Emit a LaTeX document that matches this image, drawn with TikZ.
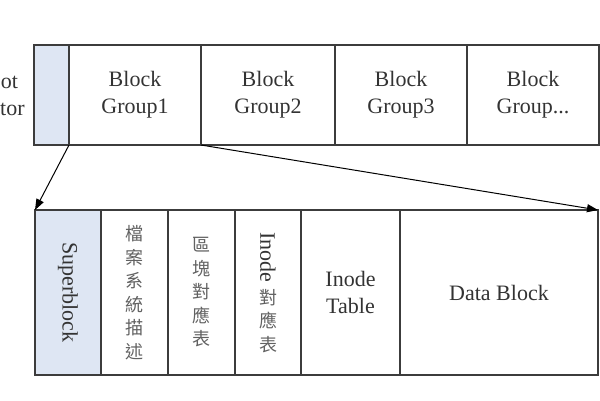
\documentclass[tikz,border=0pt]{standalone}
\usepackage{fontspec}
\setmainfont{Liberation Serif}
\newfontfamily\tcfont{Noto Sans CJK TC}
\usetikzlibrary{arrows.meta,positioning}
\definecolor{sbblue}{RGB}{222,230,243}
\definecolor{edge}{RGB}{60,60,60}

\begin{document}
\begin{tikzpicture}[
  x=1pt, y=-1pt,
  font=\fontsize{22}{27}\selectfont, text=black!80,
  cell/.style={draw=edge, line width=1.4pt, outer sep=0pt, inner sep=0pt, align=center},
  topcell/.style={cell, minimum height=100pt, anchor=west},
  lowcell/.style={cell, minimum height=165pt, anchor=west},
  zh/.style={font=\tcfont\fontsize{18}{23.5}\selectfont, text=black!62},
  link/.style={-{Triangle[length=11pt,width=8pt]}, line width=1pt, black},
]
\useasboundingbox (0,0) rectangle (600,400);
\clip (0,0) rectangle (600,400);
% top row: boot sector and block groups
\node[topcell, minimum width=35pt, fill=sbblue] (boot) at (34,95) {};
\node[align=center] (bootlbl) at (-3.5,95) {Boot\\Sector};
\node[topcell, minimum width=132pt, right=0pt of boot] (g1) {Block\\Group1};
\node[topcell, minimum width=134pt, right=0pt of g1] (g2) {Block\\Group2};
\node[topcell, minimum width=132pt, right=0pt of g2] (g3) {Block\\Group3};
\node[topcell, minimum width=132pt, right=0pt of g3] (g4) {Block\\Group...};
% one block group in detail
\node[lowcell, minimum width=66pt, fill=sbblue] (sb) at (35,292.5) {\rotatebox{-90}{Superblock}};
\node[lowcell, zh, minimum width=67pt, right=0pt of sb] (fsd) {檔\\案\\系\\統\\描\\述};
\node[lowcell, zh, minimum width=67pt, right=0pt of fsd] (bmap) {區\\塊\\對\\應\\表};
\node[lowcell, zh, minimum width=66pt, right=0pt of bmap] (imap)
  {\textcolor{black!80}{\rmfamily\fontsize{22}{27}\selectfont\rotatebox{-90}{Inode}}\\[6pt]對\\應\\表};
\node[lowcell, minimum width=99pt, right=0pt of imap] (itab) {Inode\\Table};
\node[lowcell, minimum width=198pt, right=0pt of itab] (db) {Data Block};
% zoom lines
\draw[link] (g1.south west) -- (sb.north west);
\draw[link] (g1.south east) -- (db.north east);
\end{tikzpicture}
\end{document}
